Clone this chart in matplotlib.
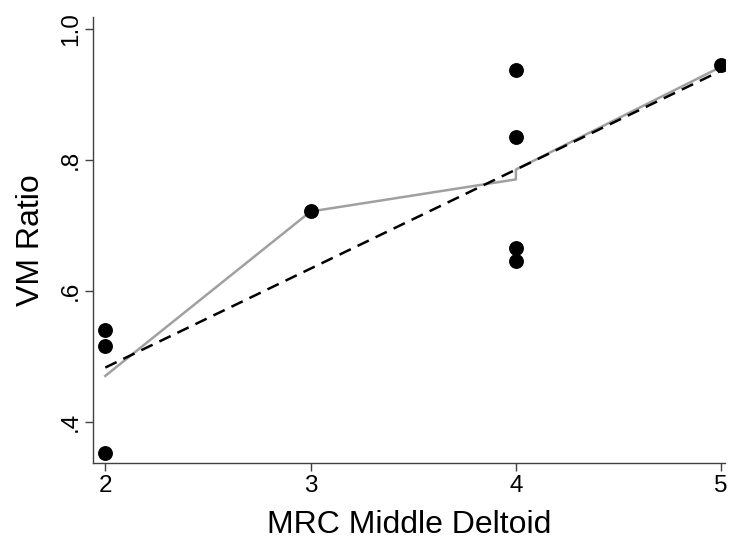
import matplotlib
matplotlib.use("Agg")
import matplotlib.pyplot as plt
import numpy as np

plt.rcParams['font.family'] = ['Liberation Sans', 'DejaVu Sans']

# Data
mrc = [2, 2, 2, 3, 4, 4, 4, 4, 5]
vm_ratio = [0.540, 0.516, 0.353, 0.721, 0.937, 0.834, 0.666, 0.646, 0.945]

# Smoothed (lowess) line
smooth_x = [2, 3, 4, 4, 5]
smooth_y = [0.470, 0.721, 0.770, 0.785, 0.942]

y_ticks = [0.4, 0.6, 0.8, 1.0]
y_ticklabels = ['.4', '.6', '.8', '1.0']
x_ticks = [2, 3, 4, 5]

fig = plt.figure(figsize=(7.47, 5.40), dpi=100)
ax = fig.add_axes([0.1245, 0.1426, 0.8465, 0.826])

ax.scatter(mrc, vm_ratio, s=115, color='black', zorder=3, linewidths=0)
ax.plot(smooth_x, smooth_y, color='#a0a0a0', lw=1.8, zorder=2)

slope, intercept = np.polyfit(mrc, vm_ratio, 1)
fx = np.array([min(mrc), max(mrc)])
ax.plot(fx, intercept + slope * fx, color='black', lw=1.8, ls=(0, (5, 3)), zorder=2)

ax.set_xlim(1.94, 5.02)
ax.set_ylim(0.337, 1.018)
ax.set_xticks(x_ticks)
ax.set_yticks(y_ticks)
ax.set_yticklabels(y_ticklabels, rotation=90, va='center')
ax.tick_params(labelsize=17.5, length=6, width=1, color='#404040', pad=3)
ax.tick_params(axis='y', pad=2)
ax.set_xlabel('MRC Middle Deltoid', fontsize=23, labelpad=9)
ax.set_ylabel('VM Ratio', fontsize=23, labelpad=10)

for s in ['top', 'right']:
    ax.spines[s].set_visible(False)
for s in ['left', 'bottom']:
    ax.spines[s].set_color('#404040')
    ax.spines[s].set_linewidth(1)

fig.savefig('out.png', dpi=100, facecolor='white')
